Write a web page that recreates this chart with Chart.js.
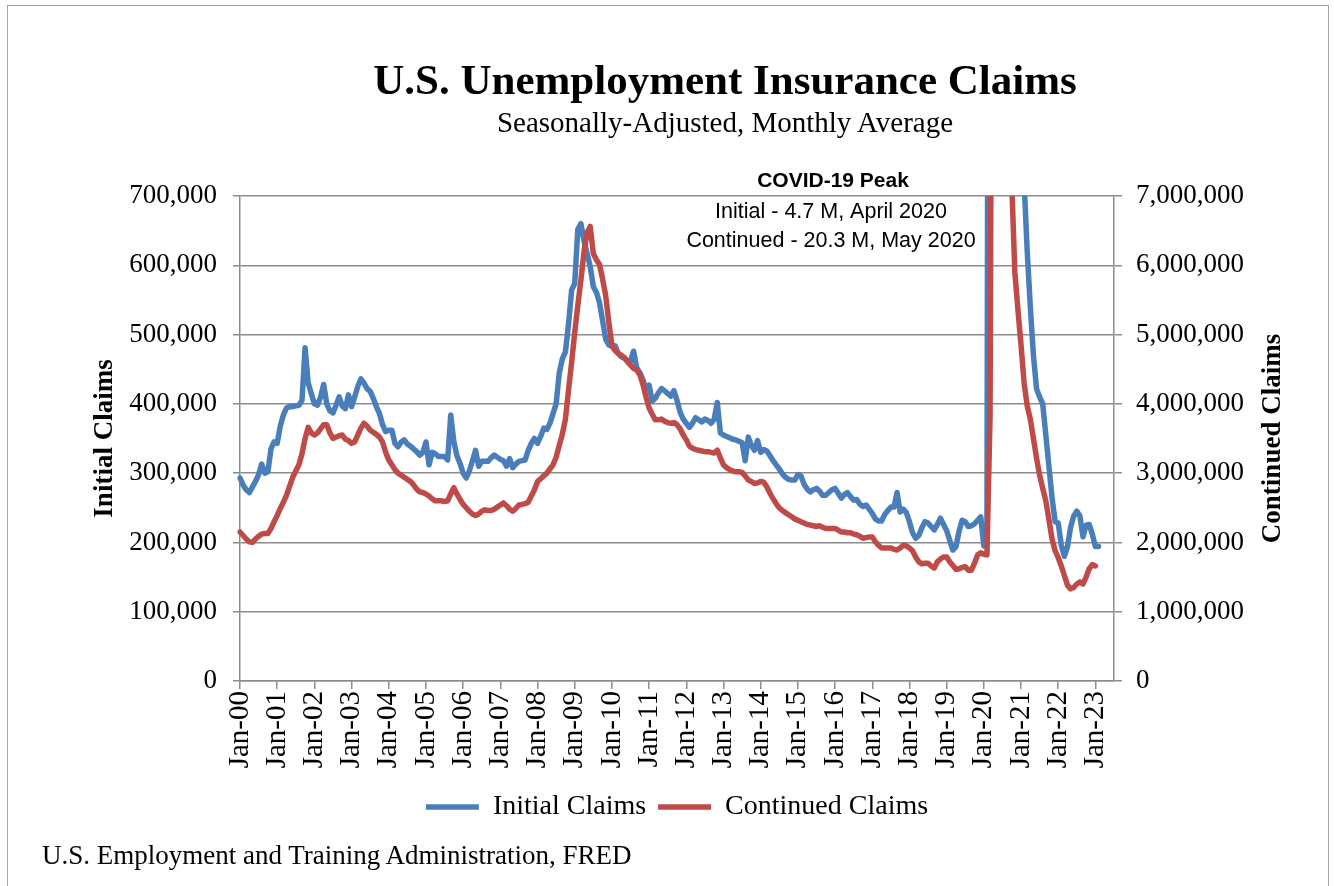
<!DOCTYPE html>
<html>
<head>
<meta charset="utf-8">
<script src="https://cdn.jsdelivr.net/npm/chart.js@4.4.1/dist/chart.umd.min.js"></script>
<style>
html,body{margin:0;padding:0;background:#fff;}
#wrap{position:relative;width:1334px;height:886px;overflow:hidden;background:#fff;}
#frame{position:absolute;left:7px;top:5px;width:1322px;height:900px;border:1px solid #a6a6a6;box-sizing:border-box;}
canvas{position:absolute;left:0;top:0;}
.t{position:absolute;font-family:'Liberation Serif','Times New Roman',serif;color:#000;white-space:nowrap;}
#title{left:0;width:1450px;text-align:center;top:55px;font-size:43px;font-weight:bold;line-height:50px;}
#subtitle{left:0;width:1450px;text-align:center;top:105px;font-size:29px;line-height:34px;}
#source{left:42px;top:840px;font-size:27px;line-height:30px;}
</style>
</head>
<body>
<div id="wrap">
  <div id="frame"></div>
  <canvas id="c" width="1334" height="886"></canvas>
  <div class="t" id="title">U.S. Unemployment Insurance Claims</div>
  <div class="t" id="subtitle">Seasonally-Adjusted, Monthly Average</div>
  <div class="t" id="source">U.S. Employment and Training Administration, FRED</div>
</div>
<script>
// ---- Data (monthly, Jan 2000 onward) ----
const monthNames = ['Jan','Feb','Mar','Apr','May','Jun','Jul','Aug','Sep','Oct','Nov','Dec'];
const firstYear = 2000;
const axisMonths = 283; // Jan 2000 .. Jul 2023 (axis extent)

// Initial claims, monthly average (persons)
const initialClaims = [
  293000,283000,276000,272000,280000,288000,298000,313000,300000,302000,335000,345000,
  343000,368000,384000,394000,396000,396000,397000,398000,405000,481000,430000,415000,
  400000,398000,410000,428000,400000,390000,387000,398000,410000,397000,393000,413000,
  396000,410000,425000,436000,430000,422000,418000,408000,396000,386000,370000,360000,
  362000,362000,343000,338000,345000,348000,342000,339000,335000,331000,326000,330000,
  345000,312000,330000,328000,324000,324000,324000,319000,384000,345000,325000,314000,
  300000,293000,303000,318000,333000,310000,317000,317000,317000,322000,326000,323000,
  320000,318000,310000,321000,308000,313000,317000,318000,319000,333000,343000,350000,
  343000,353000,365000,363000,372000,386000,400000,444000,465000,475000,515000,564000,
  574000,652000,660000,635000,617000,598000,569000,561000,546000,520000,493000,485000,
  483000,484000,473000,468000,466000,462000,462000,476000,452000,445000,435000,421000,
  427000,404000,408000,416000,422000,419000,415000,411000,419000,405000,388000,378000,
  372000,366000,372000,380000,377000,374000,378000,376000,372000,378000,402000,358000,
  355000,353000,351000,349000,348000,346000,344000,318000,352000,340000,333000,347000,
  330000,334000,332000,325000,318000,312000,306000,299000,294000,291000,290000,290000,
  298000,296000,284000,277000,273000,276000,278000,274000,268000,268000,272000,276000,
  278000,271000,264000,269000,272000,266000,261000,262000,255000,252000,254000,248000,
  242000,234000,231000,231000,240000,246000,251000,251000,272000,244000,248000,243000,
  230000,214000,206000,210000,221000,230000,228000,223000,218000,226000,235000,226000,
  217000,203000,189000,194000,216000,232000,230000,223000,224000,227000,232000,237000,
  195000,200000,2600000,4700000,2600000,1500000,1350000,1100000,900000,810000,760000,820000,
  800000,720000,620000,540000,470000,422000,410000,400000,355000,310000,265000,230000,
  228000,196000,180000,194000,222000,238000,245000,238000,208000,225000,226000,212000,
  194000,194000
];

// Continued claims, monthly average (persons)
const continuedClaims = [
  2150000,2100000,2050000,2010000,2000000,2050000,2090000,2120000,2130000,2130000,2200000,2300000,
  2390000,2490000,2580000,2680000,2810000,2940000,3030000,3120000,3280000,3500000,3660000,3580000,
  3550000,3580000,3640000,3700000,3700000,3580000,3500000,3520000,3540000,3550000,3490000,3470000,
  3430000,3450000,3550000,3650000,3720000,3680000,3620000,3590000,3560000,3520000,3450000,3300000,
  3190000,3120000,3050000,3000000,2970000,2940000,2910000,2880000,2830000,2770000,2730000,2720000,
  2700000,2670000,2630000,2600000,2600000,2600000,2590000,2600000,2700000,2790000,2700000,2620000,
  2550000,2500000,2450000,2410000,2390000,2410000,2450000,2470000,2460000,2460000,2480000,2510000,
  2540000,2570000,2530000,2480000,2450000,2490000,2540000,2550000,2560000,2580000,2670000,2760000,
  2880000,2920000,2960000,3000000,3060000,3120000,3230000,3400000,3560000,3780000,4200000,4600000,
  5030000,5420000,5790000,6200000,6470000,6560000,6170000,6080000,6010000,5800000,5560000,5180000,
  4840000,4770000,4730000,4700000,4670000,4610000,4560000,4510000,4490000,4420000,4280000,4100000,
  3940000,3850000,3770000,3770000,3780000,3750000,3730000,3720000,3730000,3700000,3640000,3550000,
  3480000,3390000,3360000,3340000,3330000,3320000,3310000,3310000,3300000,3290000,3330000,3220000,
  3120000,3080000,3050000,3030000,3020000,3020000,3010000,2960000,2900000,2880000,2850000,2860000,
  2880000,2870000,2800000,2710000,2630000,2560000,2500000,2460000,2430000,2400000,2370000,2340000,
  2320000,2300000,2280000,2260000,2250000,2240000,2230000,2240000,2220000,2200000,2200000,2200000,
  2200000,2180000,2150000,2150000,2140000,2140000,2120000,2110000,2090000,2060000,2070000,2080000,
  2080000,2010000,1960000,1920000,1920000,1920000,1920000,1900000,1890000,1920000,1960000,1950000,
  1920000,1880000,1790000,1720000,1690000,1700000,1700000,1660000,1630000,1720000,1760000,1790000,
  1790000,1720000,1670000,1610000,1620000,1640000,1650000,1600000,1600000,1700000,1820000,1850000,
  1830000,1820000,3800000,16000000,20300000,18000000,16300000,14500000,12000000,7200000,5900000,5360000,
  4850000,4300000,3970000,3780000,3500000,3220000,2970000,2780000,2600000,2330000,2050000,1880000,
  1780000,1660000,1520000,1380000,1330000,1350000,1400000,1430000,1400000,1500000,1620000,1680000,
  1660000
];

const yearTickLabels = ['Jan-00','Jan-01','Jan-02','Jan-03','Jan-04','Jan-05','Jan-06','Jan-07',
  'Jan-08','Jan-09','Jan-10','Jan-11','Jan-12','Jan-13','Jan-14','Jan-15','Jan-16','Jan-17',
  'Jan-18','Jan-19','Jan-20','Jan-21','Jan-22','Jan-23'];

const noteTitle = 'COVID-19 Peak';
const noteLines = ['Initial - 4.7 M, April 2020', 'Continued - 20.3 M, May 2020'];
const seriesNames = ['Initial Claims', 'Continued Claims'];
const axisTitles = ['Initial Claims', 'Continued Claims'];

// ---- Build categories ----
const monthLabels = [];
for (let i = 0; i < axisMonths; i++) {
  const y = firstYear + Math.floor(i / 12);
  monthLabels.push(monthNames[i % 12] + '-' + String(y % 100).padStart(2, '0'));
}

const SERIF = "'Liberation Serif','Times New Roman',serif";
const SANS = "'Liberation Sans',Arial,sans-serif";
const GRID = '#8c8c8c';
const BLUE = '#4A7EBB';
const RED = '#BE4B48';

const extras = {
  id: 'extras',
  afterDraw(chart) {
    const ctx = chart.ctx;
    const area = chart.chartArea;
    const y2 = chart.scales.y2;
    ctx.save();
    // right axis title, rotated like the left one
    ctx.font = 'bold 27px ' + SERIF;
    ctx.fillStyle = '#000';
    ctx.textAlign = 'center';
    ctx.textBaseline = 'middle';
    ctx.translate(y2.right - 16, (area.top + area.bottom) / 2);
    ctx.rotate(-Math.PI / 2);
    ctx.fillText(axisTitles[1], 0, 0);
    ctx.restore();

    // COVID annotation
    ctx.save();
    ctx.fillStyle = '#000';
    ctx.textAlign = 'center';
    ctx.textBaseline = 'middle';
    ctx.font = 'bold 21px ' + SANS;
    ctx.fillText(noteTitle, 833, 181);
    ctx.font = '21.5px ' + SANS;
    ctx.fillText(noteLines[0], 831, 212);
    ctx.fillText(noteLines[1], 831, 241);
    ctx.restore();
  }
};

new Chart(document.getElementById('c'), {
  type: 'line',
  data: {
    labels: monthLabels,
    datasets: [
      {
        label: seriesNames[0],
        data: initialClaims,
        yAxisID: 'y',
        borderColor: BLUE,
        backgroundColor: BLUE,
        borderWidth: 5.5,
        pointRadius: 0,
        pointHoverRadius: 0,
        tension: 0,
        borderJoinStyle: 'round',
        borderCapStyle: 'round',
        order: 1
      },
      {
        label: seriesNames[1],
        data: continuedClaims,
        yAxisID: 'y2',
        borderColor: RED,
        backgroundColor: RED,
        borderWidth: 5.5,
        pointRadius: 0,
        pointHoverRadius: 0,
        tension: 0,
        borderJoinStyle: 'round',
        borderCapStyle: 'round',
        order: 0
      }
    ]
  },
  options: {
    responsive: false,
    animation: false,
    events: [],
    layout: { padding: { left: 89, right: 45, top: 196, bottom: 55 } },
    plugins: {
      title: { display: false },
      tooltip: { enabled: false },
      legend: {
        position: 'bottom',
        fullSize: false,
        labels: {
          usePointStyle: true,
          pointStyle: 'line',
          pointStyleWidth: 53,
          padding: 12,
          color: '#000',
          font: { family: SERIF, size: 28 },
          sort: (a, b) => a.datasetIndex - b.datasetIndex
        }
      }
    },
    scales: {
      x: {
        type: 'category',
        offset: false,
        afterFit: s => { s.height = 100; },
        grid: { drawOnChartArea: false, drawTicks: true, tickLength: 8, color: GRID, lineWidth: 1.5 },
        border: { display: true, color: GRID, width: 1.5 },
        ticks: {
          autoSkip: false,
          minRotation: 90,
          maxRotation: 90,
          padding: 2,
          color: '#000',
          font: { family: SERIF, size: 29 },
          callback: (v, i) => (i % 12 === 0 ? yearTickLabels[i / 12] : null)
        }
      },
      y: {
        position: 'left',
        min: 0,
        max: 700000,
        afterFit: s => { s.width = 151; },
        grid: { color: GRID, lineWidth: 1.5, drawTicks: true, tickLength: 7 },
        border: { display: true, color: GRID, width: 1.5 },
        ticks: {
          stepSize: 100000,
          padding: 16,
          color: '#000',
          font: { family: SERIF, size: 27 },
          callback: v => v.toLocaleString('en-US')
        },
        title: {
          display: true,
          text: axisTitles[0],
          color: '#000',
          padding: 0,
          font: { family: SERIF, size: 27, weight: 'bold' }
        }
      },
      y2: {
        position: 'right',
        min: 0,
        max: 7000000,
        afterFit: s => { s.width = 175; },
        grid: { drawOnChartArea: false, color: GRID, lineWidth: 1.5, drawTicks: true, tickLength: 8 },
        border: { display: true, color: GRID, width: 1.5 },
        ticks: {
          stepSize: 1000000,
          padding: 14,
          color: '#000',
          font: { family: SERIF, size: 27 },
          callback: v => v.toLocaleString('en-US')
        }
      }
    }
  },
  plugins: [extras]
});
</script>
</body>
</html>
